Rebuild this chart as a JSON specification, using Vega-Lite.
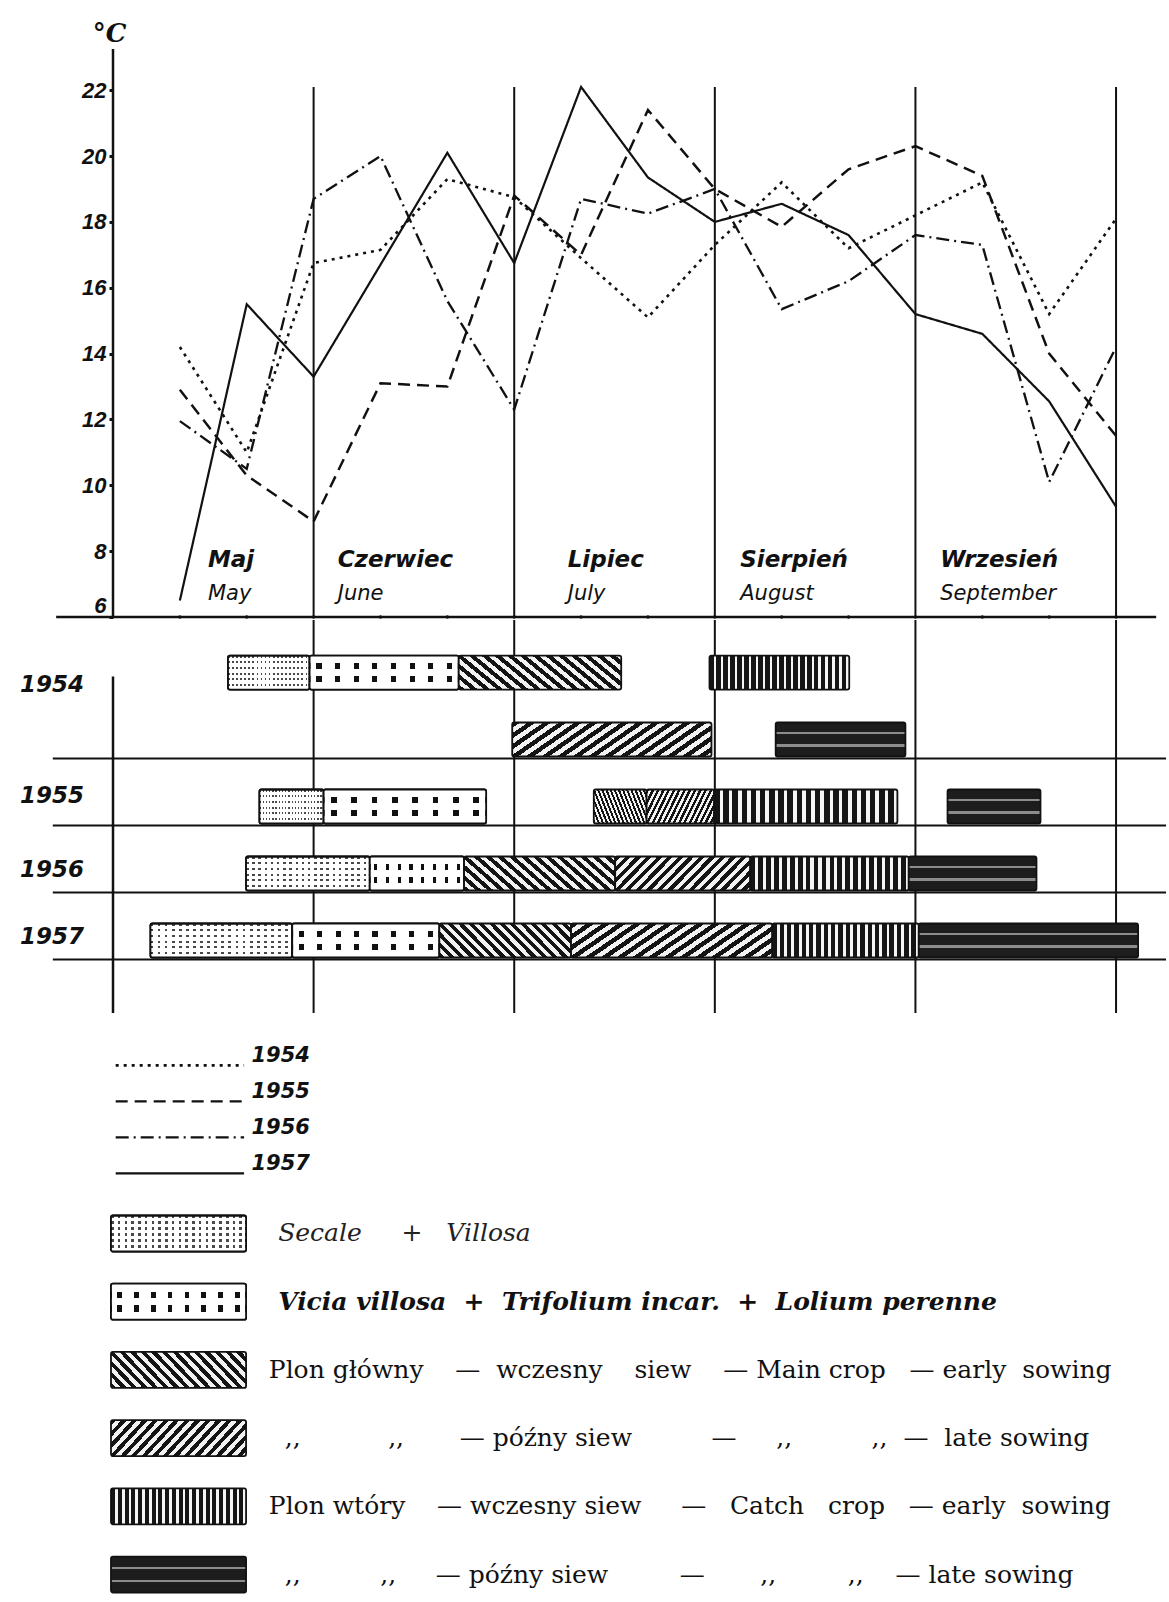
{
"$schema": "https://vega.github.io/schema/vega-lite/v6.json",
"padding": {"left": 19, "top": 0, "right": 0, "bottom": 0},
"background": "white",
"spacing": 0,
"config": {"view": {"stroke": null}},
"datasets": {
"temps": [
{"year":"1954","d":1,"t":14.2},{"year":"1954","d":2,"t":11.0},{"year":"1954","d":3,"t":16.75},{"year":"1954","d":4,"t":17.15},{"year":"1954","d":5,"t":19.3},{"year":"1954","d":6,"t":18.75},{"year":"1954","d":7,"t":16.9},{"year":"1954","d":8,"t":15.1},{"year":"1954","d":9,"t":17.3},{"year":"1954","d":10,"t":19.2},{"year":"1954","d":11,"t":17.2},{"year":"1954","d":12,"t":18.2},{"year":"1954","d":13,"t":19.2},{"year":"1954","d":14,"t":15.2},{"year":"1954","d":15,"t":18.1},
{"year":"1955","d":1,"t":12.9},{"year":"1955","d":2,"t":10.3},{"year":"1955","d":3,"t":8.9},{"year":"1955","d":4,"t":13.1},{"year":"1955","d":5,"t":13.0},{"year":"1955","d":6,"t":18.8},{"year":"1955","d":7,"t":17.0},{"year":"1955","d":8,"t":21.4},{"year":"1955","d":9,"t":19.0},{"year":"1955","d":10,"t":17.85},{"year":"1955","d":11,"t":19.6},{"year":"1955","d":12,"t":20.3},{"year":"1955","d":13,"t":19.4},{"year":"1955","d":14,"t":14.0},{"year":"1955","d":15,"t":11.5},
{"year":"1956","d":1,"t":11.95},{"year":"1956","d":2,"t":10.5},{"year":"1956","d":3,"t":18.7},{"year":"1956","d":4,"t":20.0},{"year":"1956","d":5,"t":15.6},{"year":"1956","d":6,"t":12.3},{"year":"1956","d":7,"t":18.7},{"year":"1956","d":8,"t":18.25},{"year":"1956","d":9,"t":19.0},{"year":"1956","d":10,"t":15.35},{"year":"1956","d":11,"t":16.2},{"year":"1956","d":12,"t":17.6},{"year":"1956","d":13,"t":17.3},{"year":"1956","d":14,"t":10.1},{"year":"1956","d":15,"t":14.2},
{"year":"1957","d":1,"t":6.5},{"year":"1957","d":2,"t":15.5},{"year":"1957","d":3,"t":13.3},{"year":"1957","d":4,"t":16.7},{"year":"1957","d":5,"t":20.1},{"year":"1957","d":6,"t":16.75},{"year":"1957","d":7,"t":22.1},{"year":"1957","d":8,"t":19.35},{"year":"1957","d":9,"t":18.0},{"year":"1957","d":10,"t":18.55},{"year":"1957","d":11,"t":17.6},{"year":"1957","d":12,"t":15.2},{"year":"1957","d":13,"t":14.6},{"year":"1957","d":14,"t":12.55},{"year":"1957","d":15,"t":9.35}
],
"bounds": [{"d":3},{"d":6},{"d":9},{"d":12},{"d":15}],
"months": [
{"pl":"Maj","en":"May","lx":1.42},
{"pl":"Czerwiec","en":"June","lx":3.36},
{"pl":"Lipiec","en":"July","lx":6.8},
{"pl":"Sierpień","en":"August","lx":9.38},
{"pl":"Wrzesień","en":"September","lx":12.37}
],
"bars": [
{"year":"1954","lane":1,"crop":"secale","start":1.72,"end":2.94},
{"year":"1954","lane":1,"crop":"vicia","start":2.94,"end":5.17},
{"year":"1954","lane":1,"crop":"main_early","start":5.17,"end":7.6},
{"year":"1954","lane":1,"crop":"catch_early","start":8.92,"end":11.01},
{"year":"1954","lane":2,"crop":"main_late","start":5.97,"end":8.95},
{"year":"1954","lane":2,"crop":"catch_late","start":9.91,"end":11.85},
{"year":"1955","lane":3,"crop":"secale","start":2.19,"end":3.15},
{"year":"1955","lane":3,"crop":"vicia","start":3.15,"end":5.58},
{"year":"1955","lane":3,"crop":"main_early","start":7.19,"end":7.98},
{"year":"1955","lane":3,"crop":"main_late","start":7.98,"end":8.99},
{"year":"1955","lane":3,"crop":"catch_early","start":8.99,"end":11.73},
{"year":"1955","lane":3,"crop":"catch_late","start":12.48,"end":13.87},
{"year":"1956","lane":4,"crop":"secale","start":1.99,"end":3.84},
{"year":"1956","lane":4,"crop":"vicia","start":3.84,"end":5.25},
{"year":"1956","lane":4,"crop":"main_early","start":5.25,"end":7.51},
{"year":"1956","lane":4,"crop":"main_late","start":7.51,"end":9.53},
{"year":"1956","lane":4,"crop":"catch_early","start":9.53,"end":11.9},
{"year":"1956","lane":4,"crop":"catch_late","start":11.9,"end":13.81},
{"year":"1957","lane":5,"crop":"secale","start":0.56,"end":2.68},
{"year":"1957","lane":5,"crop":"vicia","start":2.68,"end":4.88},
{"year":"1957","lane":5,"crop":"main_early","start":4.88,"end":6.85},
{"year":"1957","lane":5,"crop":"main_late","start":6.85,"end":9.86},
{"year":"1957","lane":5,"crop":"catch_early","start":9.86,"end":12.05},
{"year":"1957","lane":5,"crop":"catch_late","start":12.05,"end":15.33}
],
"years": [{"year":"1954","lane":1.18},{"year":"1955","lane":2.84},{"year":"1956","lane":3.955},{"year":"1957","lane":4.955}],
"baselines": [{"year":"1954","lane":2},{"year":"1955","lane":3},{"year":"1956","lane":4},{"year":"1957","lane":5}],
"lineLegend": [{"label":"1954","yr":1954},{"label":"1955","yr":1955},{"label":"1956","yr":1956},{"label":"1957","yr":1957}],
"cropLegend": [
{"crop":"secale","row":1,"label":"Secale \u00a0\u00a0\u00a0\u00a0+ \u00a0\u00a0Villosa"},
{"crop":"vicia","row":2,"label":"Vicia villosa \u00a0+ \u00a0Trifolium incar. \u00a0+ \u00a0Lolium perenne"},
{"crop":"main_early","row":3,"label":"Plon główny \u00a0\u00a0\u00a0— \u00a0wczesny \u00a0\u00a0\u00a0siew \u00a0\u00a0\u00a0— Main crop \u00a0\u00a0— early \u00a0sowing"},
{"crop":"main_late","row":4,"label":",,\u00a0\u00a0\u00a0\u00a0\u00a0\u00a0\u00a0\u00a0\u00a0\u00a0\u00a0,,\u00a0\u00a0\u00a0\u00a0\u00a0\u00a0\u00a0—\u00a0późny siew\u00a0\u00a0\u00a0\u00a0\u00a0\u00a0\u00a0\u00a0\u00a0\u00a0—\u00a0\u00a0\u00a0\u00a0\u00a0,,\u00a0\u00a0\u00a0\u00a0\u00a0\u00a0\u00a0\u00a0\u00a0\u00a0,,\u00a0\u00a0—\u00a0\u00a0late sowing"},
{"crop":"catch_early","row":5,"label":"Plon wtóry \u00a0\u00a0\u00a0— wczesny siew \u00a0\u00a0\u00a0\u00a0— \u00a0\u00a0Catch \u00a0\u00a0crop \u00a0\u00a0— early \u00a0sowing"},
{"crop":"catch_late","row":6,"label":",,\u00a0\u00a0\u00a0\u00a0\u00a0\u00a0\u00a0\u00a0\u00a0\u00a0,,\u00a0\u00a0\u00a0\u00a0\u00a0—\u00a0późny siew\u00a0\u00a0\u00a0\u00a0\u00a0\u00a0\u00a0\u00a0\u00a0—\u00a0\u00a0\u00a0\u00a0\u00a0\u00a0\u00a0,,\u00a0\u00a0\u00a0\u00a0\u00a0\u00a0\u00a0\u00a0\u00a0,,\u00a0\u00a0\u00a0\u00a0—\u00a0late sowing"}
]
},
"vconcat": [
{
"width": 1053, "height": 617,
"layer": [
{"data":{"name":"bounds"},"mark":{"type":"rule","color":"#111","strokeWidth":2},
 "encoding":{"x":{"field":"d","type":"quantitative","scale":{"domain":[0,15.747],"nice":false,"zero":false,"padding":0},"axis":null},
 "y":{"datum":6,"type":"quantitative"},
 "y2":{"datum":22.1}}},
{"data":{"values":[{"part":"y axis line"}]},"mark":{"type":"rule","color":"#111","strokeWidth":2.5},
 "encoding":{"x":{"datum":0,"type":"quantitative","axis":null},"y":{"datum":6,"type":"quantitative"},"y2":{"datum":23.25}}},
{"data":{"values":[{"part":"x axis line"}]},"mark":{"type":"rule","color":"#111","strokeWidth":2.5},
 "encoding":{"x":{"datum":-0.85,"type":"quantitative","axis":null},"x2":{"datum":15.6},"y":{"datum":6,"type":"quantitative"}}},
{"data":{"name":"temps"},"transform":[{"filter":"datum.year === '1957'"}],"mark":{"type":"point","filled":true,"size":12,"color":"#111","opacity":1},
 "encoding":{"x":{"field":"d","type":"quantitative","axis":null},"y":{"datum":6,"type":"quantitative"}}},
{"data":{"name":"temps"},"mark":{"type":"line","color":"#111","strokeCap":"butt","strokeJoin":"miter"},
 "encoding":{"x":{"field":"d","type":"quantitative","axis":null},
 "y":{"field":"t","type":"quantitative","scale":{"domain":[6,24.74],"nice":false,"zero":false,"padding":0},
  "axis":{"values":[6,8,10,12,14,16,18,20,22],"domain":false,"grid":false,"ticks":true,"tickSize":4,"tickWidth":3,"tickColor":"#111","labelFont":"Liberation Sans","labelFontWeight":"bold","labelFontStyle":"italic","labelFontSize":22,"labelColor":"#111","labelPadding":3,"labelFlush":true,"labelOverlap":false,"title":"°C","titleAngle":0,"titleX":-4,"titleY":41,"titleAlign":"center","titleBaseline":"alphabetic","titleFont":"DejaVu Serif","titleFontWeight":"bold","titleFontStyle":"italic","titleFontSize":26,"titleColor":"#111"}},
 "detail":{"field":"year"},
 "strokeDash":{"field":"year","type":"nominal","scale":{"domain":["1954","1955","1956","1957"],"range":[[3,5],[12,7],[13,5,2,5],[1,0]]},"legend":null},
 "strokeWidth":{"field":"year","type":"ordinal","scale":{"domain":["1954","1955","1956","1957"],"range":[2.6,2.2,1.6,2.8]},"legend":null}}},
{"data":{"name":"months"},"mark":{"type":"text","align":"left","baseline":"alphabetic","font":"DejaVu Sans","fontStyle":"italic","fontWeight":"bold","fontSize":23,"color":"#111"},
 "encoding":{"x":{"field":"lx","type":"quantitative","axis":null},"y":{"datum":7.52,"type":"quantitative"},"text":{"field":"pl"}}},
{"data":{"name":"months"},"mark":{"type":"text","align":"left","baseline":"alphabetic","font":"DejaVu Sans","fontStyle":"italic","fontWeight":"normal","fontSize":21,"color":"#111"},
 "encoding":{"x":{"field":"lx","type":"quantitative","axis":null},"y":{"datum":6.52,"type":"quantitative"},"text":{"field":"en"}}}
]
},
{
"width": 1053, "height": 393,
"layer": [
{"data":{"name":"bounds"},"mark":{"type":"rule","color":"#111","strokeWidth":2},
 "encoding":{"x":{"field":"d","type":"quantitative","scale":{"domain":[0,15.747],"nice":false,"zero":false,"padding":0},"axis":null}}},
{"data":{"values":[{"part":"y axis line"}]},"mark":{"type":"rule","color":"#111","strokeWidth":2.5},
 "encoding":{"x":{"datum":0,"type":"quantitative","axis":null},"y":{"datum":1.06,"type":"quantitative","scale":{"domain":[0.216,6.082],"reverse":true,"nice":false,"zero":false,"padding":0},"axis":null},"y2":{"datum":6.082}}},
{"data":{"name":"baselines"},"mark":{"type":"rule","color":"#111","strokeWidth":2.2,"yOffset":19},
 "encoding":{"x":{"datum":-0.9,"type":"quantitative","axis":null},"x2":{"datum":15.747},"y":{"field":"lane","type":"quantitative","axis":null}}},
{"data":{"name":"bars"},"transform":[{"filter":"datum.crop === 'secale'"}],
 "mark":{"type":"bar","orient":"horizontal","size":34,"stroke":"#111","strokeWidth":1.8,"cornerRadius":2,
 "fill":{"gradient":"linear","x1":0,"y1":0,"x2":1,"y2":0,"stops":[{"offset":0,"color":"#4a4a4a"},{"offset":0.02,"color":"#4a4a4a"},{"offset":0.02,"color":"#ffffff"},{"offset":0.05,"color":"#ffffff"},{"offset":0.05,"color":"#4a4a4a"},{"offset":0.07,"color":"#4a4a4a"},{"offset":0.07,"color":"#ffffff"},{"offset":0.1,"color":"#ffffff"},{"offset":0.1,"color":"#4a4a4a"},{"offset":0.12,"color":"#4a4a4a"},{"offset":0.12,"color":"#ffffff"},{"offset":0.15,"color":"#ffffff"},{"offset":0.15,"color":"#4a4a4a"},{"offset":0.17,"color":"#4a4a4a"},{"offset":0.17,"color":"#ffffff"},{"offset":0.2,"color":"#ffffff"},{"offset":0.2,"color":"#4a4a4a"},{"offset":0.22,"color":"#4a4a4a"},{"offset":0.22,"color":"#ffffff"},{"offset":0.25,"color":"#ffffff"},{"offset":0.25,"color":"#4a4a4a"},{"offset":0.27,"color":"#4a4a4a"},{"offset":0.27,"color":"#ffffff"},{"offset":0.3,"color":"#ffffff"},{"offset":0.3,"color":"#4a4a4a"},{"offset":0.32,"color":"#4a4a4a"},{"offset":0.32,"color":"#ffffff"},{"offset":0.35,"color":"#ffffff"},{"offset":0.35,"color":"#4a4a4a"},{"offset":0.37,"color":"#4a4a4a"},{"offset":0.37,"color":"#ffffff"},{"offset":0.4,"color":"#ffffff"},{"offset":0.4,"color":"#4a4a4a"},{"offset":0.42,"color":"#4a4a4a"},{"offset":0.42,"color":"#ffffff"},{"offset":0.45,"color":"#ffffff"},{"offset":0.45,"color":"#4a4a4a"},{"offset":0.47,"color":"#4a4a4a"},{"offset":0.47,"color":"#ffffff"},{"offset":0.5,"color":"#ffffff"},{"offset":0.5,"color":"#4a4a4a"},{"offset":0.52,"color":"#4a4a4a"},{"offset":0.52,"color":"#ffffff"},{"offset":0.55,"color":"#ffffff"},{"offset":0.55,"color":"#4a4a4a"},{"offset":0.57,"color":"#4a4a4a"},{"offset":0.57,"color":"#ffffff"},{"offset":0.6,"color":"#ffffff"},{"offset":0.6,"color":"#4a4a4a"},{"offset":0.62,"color":"#4a4a4a"},{"offset":0.62,"color":"#ffffff"},{"offset":0.65,"color":"#ffffff"},{"offset":0.65,"color":"#4a4a4a"},{"offset":0.67,"color":"#4a4a4a"},{"offset":0.67,"color":"#ffffff"},{"offset":0.7,"color":"#ffffff"},{"offset":0.7,"color":"#4a4a4a"},{"offset":0.72,"color":"#4a4a4a"},{"offset":0.72,"color":"#ffffff"},{"offset":0.75,"color":"#ffffff"},{"offset":0.75,"color":"#4a4a4a"},{"offset":0.77,"color":"#4a4a4a"},{"offset":0.77,"color":"#ffffff"},{"offset":0.8,"color":"#ffffff"},{"offset":0.8,"color":"#4a4a4a"},{"offset":0.82,"color":"#4a4a4a"},{"offset":0.82,"color":"#ffffff"},{"offset":0.85,"color":"#ffffff"},{"offset":0.85,"color":"#4a4a4a"},{"offset":0.87,"color":"#4a4a4a"},{"offset":0.87,"color":"#ffffff"},{"offset":0.9,"color":"#ffffff"},{"offset":0.9,"color":"#4a4a4a"},{"offset":0.92,"color":"#4a4a4a"},{"offset":0.92,"color":"#ffffff"},{"offset":0.95,"color":"#ffffff"},{"offset":0.95,"color":"#4a4a4a"},{"offset":0.97,"color":"#4a4a4a"},{"offset":0.97,"color":"#ffffff"},{"offset":1,"color":"#ffffff"}]}},
 "encoding":{"x":{"field":"start","type":"quantitative","axis":null},"x2":{"field":"end"},"y":{"field":"lane","type":"quantitative","axis":null}}},
{"data":{"name":"bars"},"transform":[{"filter":"datum.crop === 'secale'"}],
 "mark":{"type":"bar","orient":"horizontal","size":34,"stroke":"#111","strokeWidth":1.8,"cornerRadius":2,
 "fill":{"gradient":"linear","x1":0,"y1":0,"x2":0,"y2":1,"stops":[{"offset":0,"color":"rgba(255,255,255,0)"},{"offset":0.065,"color":"rgba(255,255,255,0)"},{"offset":0.065,"color":"#ffffff"},{"offset":0.1667,"color":"#ffffff"},{"offset":0.1667,"color":"rgba(255,255,255,0)"},{"offset":0.2317,"color":"rgba(255,255,255,0)"},{"offset":0.2317,"color":"#ffffff"},{"offset":0.3333,"color":"#ffffff"},{"offset":0.3333,"color":"rgba(255,255,255,0)"},{"offset":0.3983,"color":"rgba(255,255,255,0)"},{"offset":0.3983,"color":"#ffffff"},{"offset":0.5,"color":"#ffffff"},{"offset":0.5,"color":"rgba(255,255,255,0)"},{"offset":0.565,"color":"rgba(255,255,255,0)"},{"offset":0.565,"color":"#ffffff"},{"offset":0.6667,"color":"#ffffff"},{"offset":0.6667,"color":"rgba(255,255,255,0)"},{"offset":0.7317,"color":"rgba(255,255,255,0)"},{"offset":0.7317,"color":"#ffffff"},{"offset":0.8333,"color":"#ffffff"},{"offset":0.8333,"color":"rgba(255,255,255,0)"},{"offset":0.8983,"color":"rgba(255,255,255,0)"},{"offset":0.8983,"color":"#ffffff"},{"offset":1,"color":"#ffffff"}]}},
 "encoding":{"x":{"field":"start","type":"quantitative","axis":null},"x2":{"field":"end"},"y":{"field":"lane","type":"quantitative","axis":null}}},
{"data":{"name":"bars"},"transform":[{"filter":"datum.crop === 'vicia'"}],
 "mark":{"type":"bar","orient":"horizontal","size":34,"stroke":"#111","strokeWidth":1.8,"cornerRadius":2,
 "fill":{"gradient":"linear","x1":0,"y1":0,"x2":1,"y2":0,"stops":[{"offset":0,"color":"#ffffff"},{"offset":0.045,"color":"#ffffff"},{"offset":0.045,"color":"#111111"},{"offset":0.08,"color":"#111111"},{"offset":0.08,"color":"#ffffff"},{"offset":0.17,"color":"#ffffff"},{"offset":0.17,"color":"#111111"},{"offset":0.205,"color":"#111111"},{"offset":0.205,"color":"#ffffff"},{"offset":0.295,"color":"#ffffff"},{"offset":0.295,"color":"#111111"},{"offset":0.33,"color":"#111111"},{"offset":0.33,"color":"#ffffff"},{"offset":0.42,"color":"#ffffff"},{"offset":0.42,"color":"#111111"},{"offset":0.455,"color":"#111111"},{"offset":0.455,"color":"#ffffff"},{"offset":0.545,"color":"#ffffff"},{"offset":0.545,"color":"#111111"},{"offset":0.58,"color":"#111111"},{"offset":0.58,"color":"#ffffff"},{"offset":0.67,"color":"#ffffff"},{"offset":0.67,"color":"#111111"},{"offset":0.705,"color":"#111111"},{"offset":0.705,"color":"#ffffff"},{"offset":0.795,"color":"#ffffff"},{"offset":0.795,"color":"#111111"},{"offset":0.83,"color":"#111111"},{"offset":0.83,"color":"#ffffff"},{"offset":0.92,"color":"#ffffff"},{"offset":0.92,"color":"#111111"},{"offset":0.955,"color":"#111111"},{"offset":0.955,"color":"#ffffff"},{"offset":1,"color":"#ffffff"}]}},
 "encoding":{"x":{"field":"start","type":"quantitative","axis":null},"x2":{"field":"end"},"y":{"field":"lane","type":"quantitative","axis":null}}},
{"data":{"name":"bars"},"transform":[{"filter":"datum.crop === 'vicia'"}],
 "mark":{"type":"bar","orient":"horizontal","size":34,"stroke":"#111","strokeWidth":1.8,"cornerRadius":2,
 "fill":{"gradient":"linear","x1":0,"y1":0,"x2":0,"y2":1,"stops":[{"offset":0,"color":"#ffffff"},{"offset":0.22,"color":"#ffffff"},{"offset":0.22,"color":"rgba(255,255,255,0)"},{"offset":0.4,"color":"rgba(255,255,255,0)"},{"offset":0.4,"color":"#ffffff"},{"offset":0.6,"color":"#ffffff"},{"offset":0.6,"color":"rgba(255,255,255,0)"},{"offset":0.78,"color":"rgba(255,255,255,0)"},{"offset":0.78,"color":"#ffffff"},{"offset":1,"color":"#ffffff"}]}},
 "encoding":{"x":{"field":"start","type":"quantitative","axis":null},"x2":{"field":"end"},"y":{"field":"lane","type":"quantitative","axis":null}}},
{"data":{"name":"bars"},"transform":[{"filter":"datum.crop === 'main_early'"}],
 "mark":{"type":"bar","orient":"horizontal","size":34,"stroke":"#111","strokeWidth":1.8,"cornerRadius":2,
 "fill":{"gradient":"linear","x1":0,"y1":1,"x2":1.18,"y2":0.7,"stops":[{"offset":0,"color":"#141414"},{"offset":0.03125,"color":"#141414"},{"offset":0.03125,"color":"#f2f2f2"},{"offset":0.0625,"color":"#f2f2f2"},{"offset":0.0625,"color":"#141414"},{"offset":0.09375,"color":"#141414"},{"offset":0.09375,"color":"#f2f2f2"},{"offset":0.125,"color":"#f2f2f2"},{"offset":0.125,"color":"#141414"},{"offset":0.15625,"color":"#141414"},{"offset":0.15625,"color":"#f2f2f2"},{"offset":0.1875,"color":"#f2f2f2"},{"offset":0.1875,"color":"#141414"},{"offset":0.21875,"color":"#141414"},{"offset":0.21875,"color":"#f2f2f2"},{"offset":0.25,"color":"#f2f2f2"},{"offset":0.25,"color":"#141414"},{"offset":0.28125,"color":"#141414"},{"offset":0.28125,"color":"#f2f2f2"},{"offset":0.3125,"color":"#f2f2f2"},{"offset":0.3125,"color":"#141414"},{"offset":0.34375,"color":"#141414"},{"offset":0.34375,"color":"#f2f2f2"},{"offset":0.375,"color":"#f2f2f2"},{"offset":0.375,"color":"#141414"},{"offset":0.40625,"color":"#141414"},{"offset":0.40625,"color":"#f2f2f2"},{"offset":0.4375,"color":"#f2f2f2"},{"offset":0.4375,"color":"#141414"},{"offset":0.46875,"color":"#141414"},{"offset":0.46875,"color":"#f2f2f2"},{"offset":0.5,"color":"#f2f2f2"},{"offset":0.5,"color":"#141414"},{"offset":0.53125,"color":"#141414"},{"offset":0.53125,"color":"#f2f2f2"},{"offset":0.5625,"color":"#f2f2f2"},{"offset":0.5625,"color":"#141414"},{"offset":0.59375,"color":"#141414"},{"offset":0.59375,"color":"#f2f2f2"},{"offset":0.625,"color":"#f2f2f2"},{"offset":0.625,"color":"#141414"},{"offset":0.65625,"color":"#141414"},{"offset":0.65625,"color":"#f2f2f2"},{"offset":0.6875,"color":"#f2f2f2"},{"offset":0.6875,"color":"#141414"},{"offset":0.71875,"color":"#141414"},{"offset":0.71875,"color":"#f2f2f2"},{"offset":0.75,"color":"#f2f2f2"},{"offset":0.75,"color":"#141414"},{"offset":0.78125,"color":"#141414"},{"offset":0.78125,"color":"#f2f2f2"},{"offset":0.8125,"color":"#f2f2f2"},{"offset":0.8125,"color":"#141414"},{"offset":0.84375,"color":"#141414"},{"offset":0.84375,"color":"#f2f2f2"},{"offset":0.875,"color":"#f2f2f2"},{"offset":0.875,"color":"#141414"},{"offset":0.90625,"color":"#141414"},{"offset":0.90625,"color":"#f2f2f2"},{"offset":0.9375,"color":"#f2f2f2"},{"offset":0.9375,"color":"#141414"},{"offset":0.96875,"color":"#141414"},{"offset":0.96875,"color":"#f2f2f2"},{"offset":1,"color":"#f2f2f2"}]}},
 "encoding":{"x":{"field":"start","type":"quantitative","axis":null},"x2":{"field":"end"},"y":{"field":"lane","type":"quantitative","axis":null}}},
{"data":{"name":"bars"},"transform":[{"filter":"datum.crop === 'main_late'"}],
 "mark":{"type":"bar","orient":"horizontal","size":34,"stroke":"#111","strokeWidth":1.8,"cornerRadius":2,
 "fill":{"gradient":"linear","x1":0,"y1":0,"x2":1.18,"y2":0.29,"stops":[{"offset":0,"color":"#141414"},{"offset":0.03125,"color":"#141414"},{"offset":0.03125,"color":"#f2f2f2"},{"offset":0.0625,"color":"#f2f2f2"},{"offset":0.0625,"color":"#141414"},{"offset":0.09375,"color":"#141414"},{"offset":0.09375,"color":"#f2f2f2"},{"offset":0.125,"color":"#f2f2f2"},{"offset":0.125,"color":"#141414"},{"offset":0.15625,"color":"#141414"},{"offset":0.15625,"color":"#f2f2f2"},{"offset":0.1875,"color":"#f2f2f2"},{"offset":0.1875,"color":"#141414"},{"offset":0.21875,"color":"#141414"},{"offset":0.21875,"color":"#f2f2f2"},{"offset":0.25,"color":"#f2f2f2"},{"offset":0.25,"color":"#141414"},{"offset":0.28125,"color":"#141414"},{"offset":0.28125,"color":"#f2f2f2"},{"offset":0.3125,"color":"#f2f2f2"},{"offset":0.3125,"color":"#141414"},{"offset":0.34375,"color":"#141414"},{"offset":0.34375,"color":"#f2f2f2"},{"offset":0.375,"color":"#f2f2f2"},{"offset":0.375,"color":"#141414"},{"offset":0.40625,"color":"#141414"},{"offset":0.40625,"color":"#f2f2f2"},{"offset":0.4375,"color":"#f2f2f2"},{"offset":0.4375,"color":"#141414"},{"offset":0.46875,"color":"#141414"},{"offset":0.46875,"color":"#f2f2f2"},{"offset":0.5,"color":"#f2f2f2"},{"offset":0.5,"color":"#141414"},{"offset":0.53125,"color":"#141414"},{"offset":0.53125,"color":"#f2f2f2"},{"offset":0.5625,"color":"#f2f2f2"},{"offset":0.5625,"color":"#141414"},{"offset":0.59375,"color":"#141414"},{"offset":0.59375,"color":"#f2f2f2"},{"offset":0.625,"color":"#f2f2f2"},{"offset":0.625,"color":"#141414"},{"offset":0.65625,"color":"#141414"},{"offset":0.65625,"color":"#f2f2f2"},{"offset":0.6875,"color":"#f2f2f2"},{"offset":0.6875,"color":"#141414"},{"offset":0.71875,"color":"#141414"},{"offset":0.71875,"color":"#f2f2f2"},{"offset":0.75,"color":"#f2f2f2"},{"offset":0.75,"color":"#141414"},{"offset":0.78125,"color":"#141414"},{"offset":0.78125,"color":"#f2f2f2"},{"offset":0.8125,"color":"#f2f2f2"},{"offset":0.8125,"color":"#141414"},{"offset":0.84375,"color":"#141414"},{"offset":0.84375,"color":"#f2f2f2"},{"offset":0.875,"color":"#f2f2f2"},{"offset":0.875,"color":"#141414"},{"offset":0.90625,"color":"#141414"},{"offset":0.90625,"color":"#f2f2f2"},{"offset":0.9375,"color":"#f2f2f2"},{"offset":0.9375,"color":"#141414"},{"offset":0.96875,"color":"#141414"},{"offset":0.96875,"color":"#f2f2f2"},{"offset":1,"color":"#f2f2f2"}]}},
 "encoding":{"x":{"field":"start","type":"quantitative","axis":null},"x2":{"field":"end"},"y":{"field":"lane","type":"quantitative","axis":null}}},
{"data":{"name":"bars"},"transform":[{"filter":"datum.crop === 'catch_early'"}],
 "mark":{"type":"bar","orient":"horizontal","size":34,"stroke":"#111","strokeWidth":1.8,"cornerRadius":2,
 "fill":{"gradient":"linear","x1":0,"y1":0,"x2":1,"y2":0,"stops":[{"offset":0,"color":"#151515"},{"offset":0.03,"color":"#151515"},{"offset":0.03,"color":"#f5f5f5"},{"offset":0.05,"color":"#f5f5f5"},{"offset":0.05,"color":"#151515"},{"offset":0.08,"color":"#151515"},{"offset":0.08,"color":"#f5f5f5"},{"offset":0.1,"color":"#f5f5f5"},{"offset":0.1,"color":"#151515"},{"offset":0.13,"color":"#151515"},{"offset":0.13,"color":"#f5f5f5"},{"offset":0.15,"color":"#f5f5f5"},{"offset":0.15,"color":"#151515"},{"offset":0.18,"color":"#151515"},{"offset":0.18,"color":"#f5f5f5"},{"offset":0.2,"color":"#f5f5f5"},{"offset":0.2,"color":"#151515"},{"offset":0.23,"color":"#151515"},{"offset":0.23,"color":"#f5f5f5"},{"offset":0.25,"color":"#f5f5f5"},{"offset":0.25,"color":"#151515"},{"offset":0.28,"color":"#151515"},{"offset":0.28,"color":"#f5f5f5"},{"offset":0.3,"color":"#f5f5f5"},{"offset":0.3,"color":"#151515"},{"offset":0.33,"color":"#151515"},{"offset":0.33,"color":"#f5f5f5"},{"offset":0.35,"color":"#f5f5f5"},{"offset":0.35,"color":"#151515"},{"offset":0.38,"color":"#151515"},{"offset":0.38,"color":"#f5f5f5"},{"offset":0.4,"color":"#f5f5f5"},{"offset":0.4,"color":"#151515"},{"offset":0.43,"color":"#151515"},{"offset":0.43,"color":"#f5f5f5"},{"offset":0.45,"color":"#f5f5f5"},{"offset":0.45,"color":"#151515"},{"offset":0.48,"color":"#151515"},{"offset":0.48,"color":"#f5f5f5"},{"offset":0.5,"color":"#f5f5f5"},{"offset":0.5,"color":"#151515"},{"offset":0.53,"color":"#151515"},{"offset":0.53,"color":"#f5f5f5"},{"offset":0.55,"color":"#f5f5f5"},{"offset":0.55,"color":"#151515"},{"offset":0.58,"color":"#151515"},{"offset":0.58,"color":"#f5f5f5"},{"offset":0.6,"color":"#f5f5f5"},{"offset":0.6,"color":"#151515"},{"offset":0.63,"color":"#151515"},{"offset":0.63,"color":"#f5f5f5"},{"offset":0.65,"color":"#f5f5f5"},{"offset":0.65,"color":"#151515"},{"offset":0.68,"color":"#151515"},{"offset":0.68,"color":"#f5f5f5"},{"offset":0.7,"color":"#f5f5f5"},{"offset":0.7,"color":"#151515"},{"offset":0.73,"color":"#151515"},{"offset":0.73,"color":"#f5f5f5"},{"offset":0.75,"color":"#f5f5f5"},{"offset":0.75,"color":"#151515"},{"offset":0.78,"color":"#151515"},{"offset":0.78,"color":"#f5f5f5"},{"offset":0.8,"color":"#f5f5f5"},{"offset":0.8,"color":"#151515"},{"offset":0.83,"color":"#151515"},{"offset":0.83,"color":"#f5f5f5"},{"offset":0.85,"color":"#f5f5f5"},{"offset":0.85,"color":"#151515"},{"offset":0.88,"color":"#151515"},{"offset":0.88,"color":"#f5f5f5"},{"offset":0.9,"color":"#f5f5f5"},{"offset":0.9,"color":"#151515"},{"offset":0.93,"color":"#151515"},{"offset":0.93,"color":"#f5f5f5"},{"offset":0.95,"color":"#f5f5f5"},{"offset":0.95,"color":"#151515"},{"offset":0.98,"color":"#151515"},{"offset":0.98,"color":"#f5f5f5"},{"offset":1,"color":"#f5f5f5"}]}},
 "encoding":{"x":{"field":"start","type":"quantitative","axis":null},"x2":{"field":"end"},"y":{"field":"lane","type":"quantitative","axis":null}}},
{"data":{"name":"bars"},"transform":[{"filter":"datum.crop === 'catch_late'"}],
 "mark":{"type":"bar","orient":"horizontal","size":34,"stroke":"#111","strokeWidth":1.8,"cornerRadius":2,
 "fill":{"gradient":"linear","x1":0,"y1":0,"x2":0,"y2":1,"stops":[{"offset":0,"color":"#1d1d1d"},{"offset":0.28,"color":"#1d1d1d"},{"offset":0.28,"color":"#8c8c8c"},{"offset":0.35,"color":"#8c8c8c"},{"offset":0.35,"color":"#1d1d1d"},{"offset":0.64,"color":"#1d1d1d"},{"offset":0.64,"color":"#8c8c8c"},{"offset":0.71,"color":"#8c8c8c"},{"offset":0.71,"color":"#1d1d1d"},{"offset":1,"color":"#1d1d1d"}]}},
 "encoding":{"x":{"field":"start","type":"quantitative","axis":null},"x2":{"field":"end"},"y":{"field":"lane","type":"quantitative","axis":null}}},
{"data":{"name":"years"},"mark":{"type":"text","align":"left","baseline":"middle","font":"DejaVu Sans","fontStyle":"italic","fontWeight":"bold","fontSize":23,"color":"#111"},
 "encoding":{"x":{"datum":-1.391,"type":"quantitative","axis":null},"y":{"field":"lane","type":"quantitative","axis":null},"text":{"field":"year"}}}
]
},
{
"width": 1053, "height": 185,
"data": {"name": "lineLegend"},
"layer": [
{"mark":{"type":"rule","color":"#111","strokeCap":"butt"},
 "encoding":{"x":{"datum":0.04,"type":"quantitative","scale":{"domain":[0,15.747],"nice":false,"zero":false,"padding":0},"axis":null},"x2":{"datum":1.96},
 "y":{"field":"yr","type":"quantitative","scale":{"domain":[1952.6,1957.74],"reverse":true,"nice":false,"zero":false,"padding":0},"axis":null},
 "strokeDash":{"field":"label","type":"nominal","scale":{"domain":["1954","1955","1956","1957"],"range":[[3,5],[12,7],[13,5,2,5],[1,0]]},"legend":null},
 "strokeWidth":{"field":"label","type":"ordinal","scale":{"domain":["1954","1955","1956","1957"],"range":[2.6,2.2,1.6,2.8]},"legend":null}}},
{"mark":{"type":"text","align":"left","baseline":"middle","dy":-9,"font":"DejaVu Sans","fontStyle":"italic","fontWeight":"bold","fontSize":21,"color":"#111"},
 "encoding":{"x":{"datum":2.07,"type":"quantitative","axis":null},"y":{"field":"yr","type":"quantitative","axis":null},"text":{"field":"label"}}}
]
},
{
"width": 1053, "height": 407,
"data": {"name": "cropLegend"},
"layer": [
{"transform":[{"filter":"datum.crop === 'secale'"}],
 "mark":{"type":"bar","orient":"horizontal","size":36,"stroke":"#111","strokeWidth":1.8,"cornerRadius":2,
 "fill":{"gradient":"linear","x1":0,"y1":0,"x2":1,"y2":0,"stops":[{"offset":0,"color":"#4a4a4a"},{"offset":0.02,"color":"#4a4a4a"},{"offset":0.02,"color":"#ffffff"},{"offset":0.05,"color":"#ffffff"},{"offset":0.05,"color":"#4a4a4a"},{"offset":0.07,"color":"#4a4a4a"},{"offset":0.07,"color":"#ffffff"},{"offset":0.1,"color":"#ffffff"},{"offset":0.1,"color":"#4a4a4a"},{"offset":0.12,"color":"#4a4a4a"},{"offset":0.12,"color":"#ffffff"},{"offset":0.15,"color":"#ffffff"},{"offset":0.15,"color":"#4a4a4a"},{"offset":0.17,"color":"#4a4a4a"},{"offset":0.17,"color":"#ffffff"},{"offset":0.2,"color":"#ffffff"},{"offset":0.2,"color":"#4a4a4a"},{"offset":0.22,"color":"#4a4a4a"},{"offset":0.22,"color":"#ffffff"},{"offset":0.25,"color":"#ffffff"},{"offset":0.25,"color":"#4a4a4a"},{"offset":0.27,"color":"#4a4a4a"},{"offset":0.27,"color":"#ffffff"},{"offset":0.3,"color":"#ffffff"},{"offset":0.3,"color":"#4a4a4a"},{"offset":0.32,"color":"#4a4a4a"},{"offset":0.32,"color":"#ffffff"},{"offset":0.35,"color":"#ffffff"},{"offset":0.35,"color":"#4a4a4a"},{"offset":0.37,"color":"#4a4a4a"},{"offset":0.37,"color":"#ffffff"},{"offset":0.4,"color":"#ffffff"},{"offset":0.4,"color":"#4a4a4a"},{"offset":0.42,"color":"#4a4a4a"},{"offset":0.42,"color":"#ffffff"},{"offset":0.45,"color":"#ffffff"},{"offset":0.45,"color":"#4a4a4a"},{"offset":0.47,"color":"#4a4a4a"},{"offset":0.47,"color":"#ffffff"},{"offset":0.5,"color":"#ffffff"},{"offset":0.5,"color":"#4a4a4a"},{"offset":0.52,"color":"#4a4a4a"},{"offset":0.52,"color":"#ffffff"},{"offset":0.55,"color":"#ffffff"},{"offset":0.55,"color":"#4a4a4a"},{"offset":0.57,"color":"#4a4a4a"},{"offset":0.57,"color":"#ffffff"},{"offset":0.6,"color":"#ffffff"},{"offset":0.6,"color":"#4a4a4a"},{"offset":0.62,"color":"#4a4a4a"},{"offset":0.62,"color":"#ffffff"},{"offset":0.65,"color":"#ffffff"},{"offset":0.65,"color":"#4a4a4a"},{"offset":0.67,"color":"#4a4a4a"},{"offset":0.67,"color":"#ffffff"},{"offset":0.7,"color":"#ffffff"},{"offset":0.7,"color":"#4a4a4a"},{"offset":0.72,"color":"#4a4a4a"},{"offset":0.72,"color":"#ffffff"},{"offset":0.75,"color":"#ffffff"},{"offset":0.75,"color":"#4a4a4a"},{"offset":0.77,"color":"#4a4a4a"},{"offset":0.77,"color":"#ffffff"},{"offset":0.8,"color":"#ffffff"},{"offset":0.8,"color":"#4a4a4a"},{"offset":0.82,"color":"#4a4a4a"},{"offset":0.82,"color":"#ffffff"},{"offset":0.85,"color":"#ffffff"},{"offset":0.85,"color":"#4a4a4a"},{"offset":0.87,"color":"#4a4a4a"},{"offset":0.87,"color":"#ffffff"},{"offset":0.9,"color":"#ffffff"},{"offset":0.9,"color":"#4a4a4a"},{"offset":0.92,"color":"#4a4a4a"},{"offset":0.92,"color":"#ffffff"},{"offset":0.95,"color":"#ffffff"},{"offset":0.95,"color":"#4a4a4a"},{"offset":0.97,"color":"#4a4a4a"},{"offset":0.97,"color":"#ffffff"},{"offset":1,"color":"#ffffff"}]}},
 "encoding":{"x":{"datum":-0.03,"type":"quantitative","scale":{"domain":[0,15.747],"nice":false,"zero":false,"padding":0},"axis":null},"x2":{"datum":1.99},"y":{"field":"row","type":"quantitative","scale":{"domain":[0.509,6.476],"reverse":true,"nice":false,"zero":false,"padding":0},"axis":null}}},
{"transform":[{"filter":"datum.crop === 'secale'"}],
 "mark":{"type":"bar","orient":"horizontal","size":36,"stroke":"#111","strokeWidth":1.8,"cornerRadius":2,
 "fill":{"gradient":"linear","x1":0,"y1":0,"x2":0,"y2":1,"stops":[{"offset":0,"color":"rgba(255,255,255,0)"},{"offset":0.065,"color":"rgba(255,255,255,0)"},{"offset":0.065,"color":"#ffffff"},{"offset":0.1667,"color":"#ffffff"},{"offset":0.1667,"color":"rgba(255,255,255,0)"},{"offset":0.2317,"color":"rgba(255,255,255,0)"},{"offset":0.2317,"color":"#ffffff"},{"offset":0.3333,"color":"#ffffff"},{"offset":0.3333,"color":"rgba(255,255,255,0)"},{"offset":0.3983,"color":"rgba(255,255,255,0)"},{"offset":0.3983,"color":"#ffffff"},{"offset":0.5,"color":"#ffffff"},{"offset":0.5,"color":"rgba(255,255,255,0)"},{"offset":0.565,"color":"rgba(255,255,255,0)"},{"offset":0.565,"color":"#ffffff"},{"offset":0.6667,"color":"#ffffff"},{"offset":0.6667,"color":"rgba(255,255,255,0)"},{"offset":0.7317,"color":"rgba(255,255,255,0)"},{"offset":0.7317,"color":"#ffffff"},{"offset":0.8333,"color":"#ffffff"},{"offset":0.8333,"color":"rgba(255,255,255,0)"},{"offset":0.8983,"color":"rgba(255,255,255,0)"},{"offset":0.8983,"color":"#ffffff"},{"offset":1,"color":"#ffffff"}]}},
 "encoding":{"x":{"datum":-0.03,"type":"quantitative","axis":null},"x2":{"datum":1.99},"y":{"field":"row","type":"quantitative","axis":null}}},
{"transform":[{"filter":"datum.crop === 'vicia'"}],
 "mark":{"type":"bar","orient":"horizontal","size":36,"stroke":"#111","strokeWidth":1.8,"cornerRadius":2,
 "fill":{"gradient":"linear","x1":0,"y1":0,"x2":1,"y2":0,"stops":[{"offset":0,"color":"#ffffff"},{"offset":0.045,"color":"#ffffff"},{"offset":0.045,"color":"#111111"},{"offset":0.08,"color":"#111111"},{"offset":0.08,"color":"#ffffff"},{"offset":0.17,"color":"#ffffff"},{"offset":0.17,"color":"#111111"},{"offset":0.205,"color":"#111111"},{"offset":0.205,"color":"#ffffff"},{"offset":0.295,"color":"#ffffff"},{"offset":0.295,"color":"#111111"},{"offset":0.33,"color":"#111111"},{"offset":0.33,"color":"#ffffff"},{"offset":0.42,"color":"#ffffff"},{"offset":0.42,"color":"#111111"},{"offset":0.455,"color":"#111111"},{"offset":0.455,"color":"#ffffff"},{"offset":0.545,"color":"#ffffff"},{"offset":0.545,"color":"#111111"},{"offset":0.58,"color":"#111111"},{"offset":0.58,"color":"#ffffff"},{"offset":0.67,"color":"#ffffff"},{"offset":0.67,"color":"#111111"},{"offset":0.705,"color":"#111111"},{"offset":0.705,"color":"#ffffff"},{"offset":0.795,"color":"#ffffff"},{"offset":0.795,"color":"#111111"},{"offset":0.83,"color":"#111111"},{"offset":0.83,"color":"#ffffff"},{"offset":0.92,"color":"#ffffff"},{"offset":0.92,"color":"#111111"},{"offset":0.955,"color":"#111111"},{"offset":0.955,"color":"#ffffff"},{"offset":1,"color":"#ffffff"}]}},
 "encoding":{"x":{"datum":-0.03,"type":"quantitative","axis":null},"x2":{"datum":1.99},"y":{"field":"row","type":"quantitative","axis":null}}},
{"transform":[{"filter":"datum.crop === 'vicia'"}],
 "mark":{"type":"bar","orient":"horizontal","size":36,"stroke":"#111","strokeWidth":1.8,"cornerRadius":2,
 "fill":{"gradient":"linear","x1":0,"y1":0,"x2":0,"y2":1,"stops":[{"offset":0,"color":"#ffffff"},{"offset":0.22,"color":"#ffffff"},{"offset":0.22,"color":"rgba(255,255,255,0)"},{"offset":0.4,"color":"rgba(255,255,255,0)"},{"offset":0.4,"color":"#ffffff"},{"offset":0.6,"color":"#ffffff"},{"offset":0.6,"color":"rgba(255,255,255,0)"},{"offset":0.78,"color":"rgba(255,255,255,0)"},{"offset":0.78,"color":"#ffffff"},{"offset":1,"color":"#ffffff"}]}},
 "encoding":{"x":{"datum":-0.03,"type":"quantitative","axis":null},"x2":{"datum":1.99},"y":{"field":"row","type":"quantitative","axis":null}}},
{"transform":[{"filter":"datum.crop === 'main_early'"}],
 "mark":{"type":"bar","orient":"horizontal","size":36,"stroke":"#111","strokeWidth":1.8,"cornerRadius":2,
 "fill":{"gradient":"linear","x1":0,"y1":1,"x2":1.18,"y2":0.7,"stops":[{"offset":0,"color":"#141414"},{"offset":0.03125,"color":"#141414"},{"offset":0.03125,"color":"#f2f2f2"},{"offset":0.0625,"color":"#f2f2f2"},{"offset":0.0625,"color":"#141414"},{"offset":0.09375,"color":"#141414"},{"offset":0.09375,"color":"#f2f2f2"},{"offset":0.125,"color":"#f2f2f2"},{"offset":0.125,"color":"#141414"},{"offset":0.15625,"color":"#141414"},{"offset":0.15625,"color":"#f2f2f2"},{"offset":0.1875,"color":"#f2f2f2"},{"offset":0.1875,"color":"#141414"},{"offset":0.21875,"color":"#141414"},{"offset":0.21875,"color":"#f2f2f2"},{"offset":0.25,"color":"#f2f2f2"},{"offset":0.25,"color":"#141414"},{"offset":0.28125,"color":"#141414"},{"offset":0.28125,"color":"#f2f2f2"},{"offset":0.3125,"color":"#f2f2f2"},{"offset":0.3125,"color":"#141414"},{"offset":0.34375,"color":"#141414"},{"offset":0.34375,"color":"#f2f2f2"},{"offset":0.375,"color":"#f2f2f2"},{"offset":0.375,"color":"#141414"},{"offset":0.40625,"color":"#141414"},{"offset":0.40625,"color":"#f2f2f2"},{"offset":0.4375,"color":"#f2f2f2"},{"offset":0.4375,"color":"#141414"},{"offset":0.46875,"color":"#141414"},{"offset":0.46875,"color":"#f2f2f2"},{"offset":0.5,"color":"#f2f2f2"},{"offset":0.5,"color":"#141414"},{"offset":0.53125,"color":"#141414"},{"offset":0.53125,"color":"#f2f2f2"},{"offset":0.5625,"color":"#f2f2f2"},{"offset":0.5625,"color":"#141414"},{"offset":0.59375,"color":"#141414"},{"offset":0.59375,"color":"#f2f2f2"},{"offset":0.625,"color":"#f2f2f2"},{"offset":0.625,"color":"#141414"},{"offset":0.65625,"color":"#141414"},{"offset":0.65625,"color":"#f2f2f2"},{"offset":0.6875,"color":"#f2f2f2"},{"offset":0.6875,"color":"#141414"},{"offset":0.71875,"color":"#141414"},{"offset":0.71875,"color":"#f2f2f2"},{"offset":0.75,"color":"#f2f2f2"},{"offset":0.75,"color":"#141414"},{"offset":0.78125,"color":"#141414"},{"offset":0.78125,"color":"#f2f2f2"},{"offset":0.8125,"color":"#f2f2f2"},{"offset":0.8125,"color":"#141414"},{"offset":0.84375,"color":"#141414"},{"offset":0.84375,"color":"#f2f2f2"},{"offset":0.875,"color":"#f2f2f2"},{"offset":0.875,"color":"#141414"},{"offset":0.90625,"color":"#141414"},{"offset":0.90625,"color":"#f2f2f2"},{"offset":0.9375,"color":"#f2f2f2"},{"offset":0.9375,"color":"#141414"},{"offset":0.96875,"color":"#141414"},{"offset":0.96875,"color":"#f2f2f2"},{"offset":1,"color":"#f2f2f2"}]}},
 "encoding":{"x":{"datum":-0.03,"type":"quantitative","axis":null},"x2":{"datum":1.99},"y":{"field":"row","type":"quantitative","axis":null}}},
{"transform":[{"filter":"datum.crop === 'main_late'"}],
 "mark":{"type":"bar","orient":"horizontal","size":36,"stroke":"#111","strokeWidth":1.8,"cornerRadius":2,
 "fill":{"gradient":"linear","x1":0,"y1":0,"x2":1.18,"y2":0.29,"stops":[{"offset":0,"color":"#141414"},{"offset":0.03125,"color":"#141414"},{"offset":0.03125,"color":"#f2f2f2"},{"offset":0.0625,"color":"#f2f2f2"},{"offset":0.0625,"color":"#141414"},{"offset":0.09375,"color":"#141414"},{"offset":0.09375,"color":"#f2f2f2"},{"offset":0.125,"color":"#f2f2f2"},{"offset":0.125,"color":"#141414"},{"offset":0.15625,"color":"#141414"},{"offset":0.15625,"color":"#f2f2f2"},{"offset":0.1875,"color":"#f2f2f2"},{"offset":0.1875,"color":"#141414"},{"offset":0.21875,"color":"#141414"},{"offset":0.21875,"color":"#f2f2f2"},{"offset":0.25,"color":"#f2f2f2"},{"offset":0.25,"color":"#141414"},{"offset":0.28125,"color":"#141414"},{"offset":0.28125,"color":"#f2f2f2"},{"offset":0.3125,"color":"#f2f2f2"},{"offset":0.3125,"color":"#141414"},{"offset":0.34375,"color":"#141414"},{"offset":0.34375,"color":"#f2f2f2"},{"offset":0.375,"color":"#f2f2f2"},{"offset":0.375,"color":"#141414"},{"offset":0.40625,"color":"#141414"},{"offset":0.40625,"color":"#f2f2f2"},{"offset":0.4375,"color":"#f2f2f2"},{"offset":0.4375,"color":"#141414"},{"offset":0.46875,"color":"#141414"},{"offset":0.46875,"color":"#f2f2f2"},{"offset":0.5,"color":"#f2f2f2"},{"offset":0.5,"color":"#141414"},{"offset":0.53125,"color":"#141414"},{"offset":0.53125,"color":"#f2f2f2"},{"offset":0.5625,"color":"#f2f2f2"},{"offset":0.5625,"color":"#141414"},{"offset":0.59375,"color":"#141414"},{"offset":0.59375,"color":"#f2f2f2"},{"offset":0.625,"color":"#f2f2f2"},{"offset":0.625,"color":"#141414"},{"offset":0.65625,"color":"#141414"},{"offset":0.65625,"color":"#f2f2f2"},{"offset":0.6875,"color":"#f2f2f2"},{"offset":0.6875,"color":"#141414"},{"offset":0.71875,"color":"#141414"},{"offset":0.71875,"color":"#f2f2f2"},{"offset":0.75,"color":"#f2f2f2"},{"offset":0.75,"color":"#141414"},{"offset":0.78125,"color":"#141414"},{"offset":0.78125,"color":"#f2f2f2"},{"offset":0.8125,"color":"#f2f2f2"},{"offset":0.8125,"color":"#141414"},{"offset":0.84375,"color":"#141414"},{"offset":0.84375,"color":"#f2f2f2"},{"offset":0.875,"color":"#f2f2f2"},{"offset":0.875,"color":"#141414"},{"offset":0.90625,"color":"#141414"},{"offset":0.90625,"color":"#f2f2f2"},{"offset":0.9375,"color":"#f2f2f2"},{"offset":0.9375,"color":"#141414"},{"offset":0.96875,"color":"#141414"},{"offset":0.96875,"color":"#f2f2f2"},{"offset":1,"color":"#f2f2f2"}]}},
 "encoding":{"x":{"datum":-0.03,"type":"quantitative","axis":null},"x2":{"datum":1.99},"y":{"field":"row","type":"quantitative","axis":null}}},
{"transform":[{"filter":"datum.crop === 'catch_early'"}],
 "mark":{"type":"bar","orient":"horizontal","size":36,"stroke":"#111","strokeWidth":1.8,"cornerRadius":2,
 "fill":{"gradient":"linear","x1":0,"y1":0,"x2":1,"y2":0,"stops":[{"offset":0,"color":"#151515"},{"offset":0.03,"color":"#151515"},{"offset":0.03,"color":"#f5f5f5"},{"offset":0.05,"color":"#f5f5f5"},{"offset":0.05,"color":"#151515"},{"offset":0.08,"color":"#151515"},{"offset":0.08,"color":"#f5f5f5"},{"offset":0.1,"color":"#f5f5f5"},{"offset":0.1,"color":"#151515"},{"offset":0.13,"color":"#151515"},{"offset":0.13,"color":"#f5f5f5"},{"offset":0.15,"color":"#f5f5f5"},{"offset":0.15,"color":"#151515"},{"offset":0.18,"color":"#151515"},{"offset":0.18,"color":"#f5f5f5"},{"offset":0.2,"color":"#f5f5f5"},{"offset":0.2,"color":"#151515"},{"offset":0.23,"color":"#151515"},{"offset":0.23,"color":"#f5f5f5"},{"offset":0.25,"color":"#f5f5f5"},{"offset":0.25,"color":"#151515"},{"offset":0.28,"color":"#151515"},{"offset":0.28,"color":"#f5f5f5"},{"offset":0.3,"color":"#f5f5f5"},{"offset":0.3,"color":"#151515"},{"offset":0.33,"color":"#151515"},{"offset":0.33,"color":"#f5f5f5"},{"offset":0.35,"color":"#f5f5f5"},{"offset":0.35,"color":"#151515"},{"offset":0.38,"color":"#151515"},{"offset":0.38,"color":"#f5f5f5"},{"offset":0.4,"color":"#f5f5f5"},{"offset":0.4,"color":"#151515"},{"offset":0.43,"color":"#151515"},{"offset":0.43,"color":"#f5f5f5"},{"offset":0.45,"color":"#f5f5f5"},{"offset":0.45,"color":"#151515"},{"offset":0.48,"color":"#151515"},{"offset":0.48,"color":"#f5f5f5"},{"offset":0.5,"color":"#f5f5f5"},{"offset":0.5,"color":"#151515"},{"offset":0.53,"color":"#151515"},{"offset":0.53,"color":"#f5f5f5"},{"offset":0.55,"color":"#f5f5f5"},{"offset":0.55,"color":"#151515"},{"offset":0.58,"color":"#151515"},{"offset":0.58,"color":"#f5f5f5"},{"offset":0.6,"color":"#f5f5f5"},{"offset":0.6,"color":"#151515"},{"offset":0.63,"color":"#151515"},{"offset":0.63,"color":"#f5f5f5"},{"offset":0.65,"color":"#f5f5f5"},{"offset":0.65,"color":"#151515"},{"offset":0.68,"color":"#151515"},{"offset":0.68,"color":"#f5f5f5"},{"offset":0.7,"color":"#f5f5f5"},{"offset":0.7,"color":"#151515"},{"offset":0.73,"color":"#151515"},{"offset":0.73,"color":"#f5f5f5"},{"offset":0.75,"color":"#f5f5f5"},{"offset":0.75,"color":"#151515"},{"offset":0.78,"color":"#151515"},{"offset":0.78,"color":"#f5f5f5"},{"offset":0.8,"color":"#f5f5f5"},{"offset":0.8,"color":"#151515"},{"offset":0.83,"color":"#151515"},{"offset":0.83,"color":"#f5f5f5"},{"offset":0.85,"color":"#f5f5f5"},{"offset":0.85,"color":"#151515"},{"offset":0.88,"color":"#151515"},{"offset":0.88,"color":"#f5f5f5"},{"offset":0.9,"color":"#f5f5f5"},{"offset":0.9,"color":"#151515"},{"offset":0.93,"color":"#151515"},{"offset":0.93,"color":"#f5f5f5"},{"offset":0.95,"color":"#f5f5f5"},{"offset":0.95,"color":"#151515"},{"offset":0.98,"color":"#151515"},{"offset":0.98,"color":"#f5f5f5"},{"offset":1,"color":"#f5f5f5"}]}},
 "encoding":{"x":{"datum":-0.03,"type":"quantitative","axis":null},"x2":{"datum":1.99},"y":{"field":"row","type":"quantitative","axis":null}}},
{"transform":[{"filter":"datum.crop === 'catch_late'"}],
 "mark":{"type":"bar","orient":"horizontal","size":36,"stroke":"#111","strokeWidth":1.8,"cornerRadius":2,
 "fill":{"gradient":"linear","x1":0,"y1":0,"x2":0,"y2":1,"stops":[{"offset":0,"color":"#1d1d1d"},{"offset":0.28,"color":"#1d1d1d"},{"offset":0.28,"color":"#8c8c8c"},{"offset":0.35,"color":"#8c8c8c"},{"offset":0.35,"color":"#1d1d1d"},{"offset":0.64,"color":"#1d1d1d"},{"offset":0.64,"color":"#8c8c8c"},{"offset":0.71,"color":"#8c8c8c"},{"offset":0.71,"color":"#1d1d1d"},{"offset":1,"color":"#1d1d1d"}]}},
 "encoding":{"x":{"datum":-0.03,"type":"quantitative","axis":null},"x2":{"datum":1.99},"y":{"field":"row","type":"quantitative","axis":null}}},
{"transform":[{"filter":"datum.row === 1"}],
 "mark":{"type":"text","align":"left","baseline":"middle","font":"DejaVu Serif","fontStyle":"italic","fontWeight":"normal","fontSize":25,"color":"#222"},
 "encoding":{"x":{"datum":2.47,"type":"quantitative","axis":null},"y":{"field":"row","type":"quantitative","axis":null},"text":{"field":"label"}}},
{"transform":[{"filter":"datum.row === 2"}],
 "mark":{"type":"text","align":"left","baseline":"middle","font":"DejaVu Serif","fontStyle":"italic","fontWeight":"bold","fontSize":25,"color":"#111"},
 "encoding":{"x":{"datum":2.47,"type":"quantitative","axis":null},"y":{"field":"row","type":"quantitative","axis":null},"text":{"field":"label"}}},
{"transform":[{"filter":"datum.row === 3 || datum.row === 5"}],
 "mark":{"type":"text","align":"left","baseline":"middle","font":"DejaVu Serif","fontStyle":"normal","fontWeight":"normal","fontSize":25,"color":"#111"},
 "encoding":{"x":{"datum":2.33,"type":"quantitative","axis":null},"y":{"field":"row","type":"quantitative","axis":null},"text":{"field":"label"}}},
{"transform":[{"filter":"datum.row === 4 || datum.row === 6"}],
 "mark":{"type":"text","align":"left","baseline":"middle","font":"DejaVu Serif","fontStyle":"normal","fontWeight":"normal","fontSize":25,"color":"#111"},
 "encoding":{"x":{"datum":2.57,"type":"quantitative","axis":null},"y":{"field":"row","type":"quantitative","axis":null},"text":{"field":"label"}}}
]
}
]
}
